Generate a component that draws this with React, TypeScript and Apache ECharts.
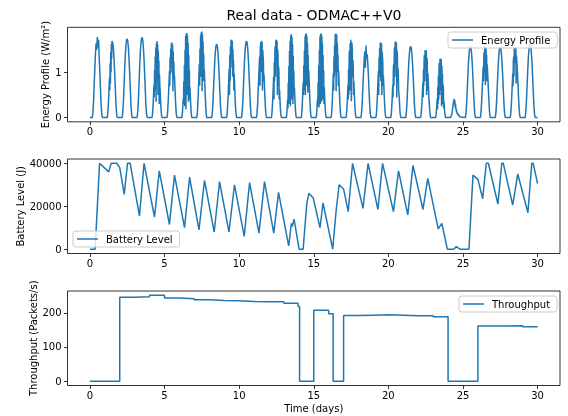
import React, { useEffect, useRef } from "react";
import * as echarts from "echarts";

// ---- data ----
const TITLE = "Real data - ODMAC++V0";
const X_TICKS = [0, 5, 10, 15, 20, 25, 30];
const ENERGY_TICKS = [0, 1];
const BATTERY_TICKS = [0, 20000, 40000];
const THROUGHPUT_TICKS = [0, 100, 200];

// daylight window (hours) over which each day's samples are spread evenly
const SUNRISE_H = 4;
const SUNSET_H = 20;

// Energy profile (W/m^2), samples from sunrise to sunset for each day 0..29
const ENERGY_DAYS: number[][] = [
  [0, 0.14, 0.39, 0.75, 1.1, 1.42, 1.64, 1.5, 1.78, 1.55, 1.72, 1.32, 1.0, 0.64, 0.3, 0.09, 0],
  [0, 0.05, 0.14, 0.25, 0.37, 0.55, 0.71, 0.88, 0.6, 1.2, 0.75, 1.45, 1.0, 1.62, 1.3, 1.69, 1.68, 1.66, 1.63, 1.57, 1.49, 1.37, 1.25, 1.1, 0.95, 0.78, 0.61, 0.44, 0.29, 0.17, 0.08, 0.03, 0],
  [0, 0.14, 0.38, 0.73, 1.08, 1.39, 1.6, 1.72, 1.74, 1.69, 1.53, 1.29, 0.97, 0.63, 0.3, 0.09, 0],
  [0, 0.14, 0.39, 0.74, 1.1, 1.42, 1.63, 1.75, 1.77, 1.72, 1.56, 1.31, 0.99, 0.64, 0.3, 0.09, 0],
  [0, 0.05, 0.14, 0.25, 0.37, 0.54, 0.71, 0.45, 1.05, 0.6, 1.35, 0.9, 1.55, 0.35, 1.65, 1.2, 1.69, 0.8, 1.62, 0.5, 1.48, 1.1, 1.25, 0.3, 0.95, 0.7, 0.6, 0.44, 0.29, 0.17, 0.08, 0.03, 0],
  [0, 0.05, 0.13, 0.25, 0.37, 0.53, 0.7, 0.86, 1.03, 0.7, 1.33, 0.95, 1.52, 1.0, 1.64, 1.3, 1.66, 1.2, 1.61, 0.58, 1.46, 1.05, 1.23, 0.9, 0.93, 0.77, 0.6, 0.43, 0.28, 0.17, 0.08, 0.03, 0],
  [0, 0.06, 0.15, 0.28, 0.41, 0.3, 0.79, 0.4, 1.16, 0.25, 1.5, 0.6, 1.8, 0.18, 1.85, 0.9, 1.87, 0.5, 1.81, 1.2, 1.65, 0.35, 1.38, 0.8, 1.05, 0.4, 0.67, 0.48, 0.32, 0.19, 0.09, 0.03, 0],
  [0, 0.06, 0.15, 0.28, 0.42, 0.61, 0.8, 0.99, 1.18, 0.7, 1.52, 1.0, 1.82, 0.9, 1.88, 1.4, 1.9, 0.58, 1.84, 1.3, 1.68, 0.8, 1.41, 1.0, 1.06, 0.87, 0.68, 0.49, 0.32, 0.19, 0.09, 0.03, 0],
  [0, 0.13, 0.36, 0.68, 1.0, 1.3, 1.49, 1.6, 1.62, 1.57, 1.43, 1.2, 0.91, 0.58, 0.28, 0.08, 0],
  [0, 0.05, 0.14, 0.26, 0.38, 0.55, 0.72, 0.9, 1.07, 0.5, 1.38, 0.8, 1.58, 1.1, 1.7, 1.72, 1.4, 1.7, 1.67, 0.9, 1.51, 1.2, 1.27, 0.6, 0.97, 0.8, 0.62, 0.45, 0.29, 0.17, 0.09, 0.03, 0],
  [0, 0.14, 0.37, 0.71, 1.05, 1.35, 1.55, 1.67, 1.69, 1.64, 1.49, 1.25, 0.95, 0.61, 0.29, 0.08, 0],
  [0, 0.05, 0.14, 0.25, 0.37, 0.54, 0.71, 0.88, 1.05, 1.2, 1.35, 0.7, 1.55, 1.62, 1.67, 1.0, 1.69, 1.67, 1.64, 0.6, 1.49, 1.37, 1.25, 0.8, 0.95, 0.78, 0.61, 0.44, 0.29, 0.17, 0.08, 0.03, 0],
  [0, 0.05, 0.14, 0.26, 0.38, 0.55, 0.72, 0.9, 0.4, 1.22, 0.8, 1.48, 1.58, 0.9, 1.7, 1.72, 1.2, 1.7, 1.67, 0.5, 1.51, 1.39, 0.7, 1.12, 0.97, 0.4, 0.62, 0.45, 0.29, 0.17, 0.09, 0.03, 0],
  [0, 0.06, 0.15, 0.28, 0.4, 0.2, 0.77, 0.35, 1.14, 0.3, 1.47, 0.6, 1.7, 0.25, 1.82, 1.0, 1.84, 0.4, 1.78, 1.1, 1.62, 0.3, 1.36, 0.7, 1.03, 0.5, 0.66, 0.48, 0.31, 0.18, 0.09, 0.03, 0],
  [0, 0.06, 0.15, 0.28, 0.41, 0.6, 0.78, 0.5, 1.15, 0.6, 1.49, 0.9, 1.79, 0.5, 1.85, 1.3, 1.86, 0.7, 1.8, 1.0, 1.64, 0.55, 1.38, 0.9, 1.04, 0.85, 0.67, 0.48, 0.32, 0.19, 0.09, 0.03, 0],
  [0, 0.06, 0.15, 0.28, 0.41, 0.25, 0.78, 0.3, 1.15, 0.22, 1.49, 0.5, 1.79, 0.3, 1.85, 0.9, 1.86, 0.35, 1.8, 1.1, 1.64, 0.4, 1.38, 0.6, 1.04, 0.3, 0.67, 0.48, 0.32, 0.19, 0.09, 0.03, 0],
  [0, 0.06, 0.15, 0.28, 0.41, 0.6, 0.78, 0.97, 0.6, 1.35, 0.9, 1.6, 1.0, 1.84, 1.2, 1.86, 0.58, 1.84, 1.8, 1.0, 1.64, 1.1, 1.38, 0.7, 1.04, 0.85, 0.67, 0.48, 0.32, 0.19, 0.09, 0.03, 0],
  [0, 0.05, 0.14, 0.26, 0.38, 0.55, 0.72, 0.4, 1.07, 0.5, 1.38, 1.48, 0.6, 1.65, 1.2, 1.72, 1.72, 0.36, 1.67, 1.6, 1.51, 0.9, 1.27, 1.12, 0.5, 0.8, 0.62, 0.45, 0.29, 0.17, 0.09, 0.03, 0],
  [0, 0.13, 0.35, 0.67, 0.99, 1.27, 1.46, 1.1, 1.59, 1.3, 1.4, 1.18, 0.89, 0.57, 0.27, 0.08, 0],
  [0, 0.05, 0.13, 0.25, 0.37, 0.53, 0.7, 0.86, 1.03, 0.5, 1.33, 0.9, 1.53, 1.2, 1.64, 1.66, 0.8, 1.64, 1.61, 0.5, 1.46, 1.34, 1.23, 0.7, 0.93, 0.77, 0.6, 0.43, 0.28, 0.17, 0.08, 0.03, 0],
  [0, 0.05, 0.13, 0.25, 0.37, 0.54, 0.71, 0.45, 1.04, 1.19, 0.7, 1.45, 1.55, 0.9, 1.66, 1.68, 1.2, 1.66, 1.63, 0.44, 1.48, 1.36, 0.9, 1.09, 0.94, 0.6, 0.61, 0.44, 0.29, 0.17, 0.08, 0.03, 0],
  [0, 0.13, 0.35, 0.66, 0.97, 1.26, 1.44, 1.55, 1.57, 1.52, 1.38, 1.16, 0.88, 0.57, 0.27, 0.08, 0],
  [0, 0.05, 0.12, 0.23, 0.33, 0.48, 0.63, 0.78, 0.45, 1.07, 0.7, 1.29, 1.38, 0.8, 1.49, 1.5, 1.1, 1.49, 1.46, 0.5, 1.32, 1.22, 0.6, 0.98, 0.84, 0.69, 0.44, 0.39, 0.26, 0.15, 0.08, 0.03, 0],
  [0, 0.04, 0.1, 0.2, 0.29, 0.42, 0.18, 0.68, 0.3, 0.93, 0.4, 1.13, 1.21, 0.5, 1.3, 1.31, 0.6, 1.3, 1.27, 0.25, 1.15, 0.9, 0.97, 0.3, 0.73, 0.6, 0.2, 0.34, 0.23, 0.13, 0.07, 0.03, 0],
  [0, 0.01, 0.03, 0.05, 0.08, 0.12, 0.16, 0.21, 0.27, 0.32, 0.36, 0.38, 0.41, 0.3, 0.37, 0.22, 0.3, 0.18, 0.2, 0.12, 0.15, 0.08, 0.1, 0.06, 0.08, 0.04, 0.06, 0.03, 0.05, 0.02, 0.03, 0.01, 0],
  [0, 0.13, 0.35, 0.66, 0.98, 1.26, 1.45, 1.56, 1.58, 1.53, 1.39, 1.17, 0.88, 0.57, 0.27, 0.08, 0],
  [0, 0.05, 0.13, 0.24, 0.35, 0.51, 0.66, 0.82, 0.98, 1.12, 0.8, 1.36, 1.45, 1.0, 1.56, 1.58, 0.72, 1.56, 1.53, 1.2, 1.39, 0.8, 1.17, 1.03, 0.88, 0.73, 0.57, 0.41, 0.27, 0.16, 0.08, 0.03, 0],
  [0, 0.12, 0.34, 0.66, 0.97, 1.25, 1.44, 1.54, 1.56, 1.51, 1.37, 1.15, 0.87, 0.56, 0.27, 0.08, 0],
  [0, 0.05, 0.12, 0.23, 0.34, 0.5, 0.66, 0.81, 0.97, 0.69, 1.25, 1.34, 0.9, 1.54, 1.56, 1.2, 1.56, 1.54, 1.51, 0.75, 1.37, 1.26, 1.15, 1.01, 0.87, 0.72, 0.56, 0.41, 0.27, 0.16, 0.08, 0.03, 0],
  [0, 0.13, 0.36, 0.68, 1.0, 1.3, 1.49, 1.6, 1.62, 1.57, 1.43, 1.2, 0.91, 0.58, 0.28, 0.08, 0],
];

// Battery level (J): time (days) and value
const BATTERY_T = [0, 0.35, 0.65, 1.26, 1.43, 1.8, 2.0, 2.3, 2.52, 2.7, 3.32, 3.63, 4.33, 4.65, 5.33, 5.67, 6.34, 6.68, 7.31, 7.68, 8.33, 8.69, 9.32, 9.69, 10.34, 10.7, 11.33, 11.7, 12.32, 12.64, 13.32, 13.5, 13.56, 13.68, 14.02, 14.29, 14.53, 14.67, 14.96, 15.42, 15.62, 16.27, 16.5, 16.7, 17.0, 17.31, 17.6, 18.3, 18.64, 19.3, 19.61, 20.34, 20.68, 21.3, 21.65, 22.32, 22.64, 23.34, 23.58, 23.95, 24.38, 24.55, 24.8, 25.4, 25.67, 26.0, 26.32, 26.56, 26.7, 27.34, 27.6, 27.7, 28.33, 28.67, 29.35, 29.61, 29.7, 30.0];
const BATTERY_V = [0, 0, 40000, 36000, 40000, 40000, 38000, 25500, 40000, 40000, 15500, 40000, 15000, 36500, 11500, 34500, 10000, 33500, 9000, 32000, 8000, 31500, 8000, 30000, 6000, 31000, 7500, 31500, 7500, 26500, 1500, 12000, 10500, 14000, 0, 0, 21000, 26000, 24000, 10000, 21500, 0, 18000, 30000, 28000, 17500, 40000, 19000, 40000, 18500, 40000, 17500, 36500, 16000, 39000, 18500, 33000, 9500, 12000, 0, 0, 1200, 0, 0, 34500, 32500, 23500, 40000, 40000, 21000, 40000, 40000, 20500, 35000, 17000, 40000, 40000, 30500];

// Throughput (packets/s): step start times (days) and values
const THROUGHPUT_T = [0, 2, 3, 4, 5, 6, 7, 8, 9, 10, 11, 12, 13, 13.95, 14.05, 15, 16, 16.3, 17, 18, 19, 20, 21, 22, 23, 24, 26, 27, 28, 29, 30];
const THROUGHPUT_V = [0, 245, 247, 251, 243, 241, 238, 236, 235, 233, 232, 232, 228, 218, 0, 207, 197, 0, 192, 193, 194, 193, 191, 191, 188, 0, 161, 161, 162, 159, 159];

// ---- styles ----
const FONT = "DejaVu Sans";
const C0 = "#1f77b4";
const GRID_LEFT = 67.5;
const GRID_W = 492.5;
const GRID_H = 94.5;
const GRID_TOPS = [27.3, 159, 291];

function App() {
  const ref = useRef<HTMLDivElement>(null);
  useEffect(() => {
    if (!ref.current) return;
    const chart = echarts.init(ref.current, undefined, { renderer: "svg" });

    const energyData: [number, number][] = [[0, 0]];
    ENERGY_DAYS.forEach((vals, d) => {
      const n = vals.length;
      vals.forEach((v, i) => {
        energyData.push([d + (SUNRISE_H + ((SUNSET_H - SUNRISE_H) * i) / (n - 1)) / 24, v]);
      });
    });
    energyData.push([30, 0]);
    const batteryData = BATTERY_T.map((t, i) => [t, BATTERY_V[i]]);
    const throughputData = THROUGHPUT_T.map((t, i) => [t, THROUGHPUT_V[i]]);

    const label = { fontFamily: FONT, fontSize: 10, color: "#000" };
    const fmt = (v: number) => String(v);

    const xAxis = [0, 1, 2].map((g) => ({
      type: "value",
      gridIndex: g,
      min: -1.5,
      max: 31.5,
      axisLine: { show: false, onZero: false },
      splitLine: { show: false },
      axisTick: { show: true, length: 3.5, customValues: X_TICKS, lineStyle: { color: "#000", width: 0.8 } },
      axisLabel: { ...label, margin: 5, customValues: X_TICKS, formatter: fmt },
      ...(g === 2
        ? { name: "Time (days)", nameLocation: "middle", nameGap: 18, nameMoveOverlap: false, nameTextStyle: { ...label } }
        : {}),
    }));

    const yDefs = [
      { min: -0.095, max: 1.995, ticks: ENERGY_TICKS, name: "Energy Profile (W/m²)", gap: 17 },
      { min: -2000, max: 42000, ticks: BATTERY_TICKS, name: "Battery Level (J)", gap: 42 },
      { min: -12.55, max: 263.55, ticks: THROUGHPUT_TICKS, name: "Throughput (Packets/s)", gap: 29 },
    ];
    const yAxis = yDefs.map((d, g) => ({
      type: "value",
      gridIndex: g,
      min: d.min,
      max: d.max,
      axisLine: { show: false, onZero: false },
      splitLine: { show: false },
      axisTick: { show: true, length: 3.5, customValues: d.ticks, lineStyle: { color: "#000", width: 0.8 } },
      axisLabel: { ...label, margin: 6, customValues: d.ticks, formatter: fmt },
      name: d.name,
      nameLocation: "middle",
      nameRotate: 90,
      nameGap: d.gap,
      nameMoveOverlap: false,
      nameTextStyle: { ...label },
    }));

    const legendBase = {
      orient: "horizontal",
      backgroundColor: "rgba(255,255,255,0.8)",
      borderColor: "#ccc",
      borderWidth: 1,
      borderRadius: 3,
      padding: [3, 7, 3, 4],
      itemWidth: 21,
      itemHeight: 1.5,
      icon: "rect",
      textStyle: { ...label, padding: [0, 0, 0, 3] },
      selectedMode: false,
    };

    const lineBase = {
      type: "line",
      symbol: "none",
      showSymbol: false,
      color: C0,
      lineStyle: { color: C0, width: 1.5 },
      emphasis: { disabled: true },
    };

    chart.setOption({
      animation: false,
      textStyle: { fontFamily: FONT },
      grid: GRID_TOPS.map((top) => ({
        left: GRID_LEFT,
        top,
        width: GRID_W,
        height: GRID_H,
        show: true,
        borderColor: "#000",
        borderWidth: 0.8,
        backgroundColor: "transparent",
      })),
      xAxis,
      yAxis,
      legend: [
        { ...legendBase, data: ["Energy Profile"], left: 448, top: 32 },
        { ...legendBase, data: ["Battery Level"], left: 73, top: 231 },
        { ...legendBase, data: ["Throughput"], left: 459, top: 296 },
      ],
      graphic: [
        {
          type: "text",
          x: 314,
          y: 15,
          style: {
            text: TITLE,
            fontFamily: FONT,
            fontSize: 14,
            fill: "#000",
            textAlign: "center",
            textVerticalAlign: "middle",
          },
        },
      ],
      series: [
        { ...lineBase, name: "Energy Profile", xAxisIndex: 0, yAxisIndex: 0, data: energyData },
        { ...lineBase, name: "Battery Level", xAxisIndex: 1, yAxisIndex: 1, data: batteryData },
        { ...lineBase, name: "Throughput", xAxisIndex: 2, yAxisIndex: 2, step: "end", data: throughputData },
      ],
    });
    return () => chart.dispose();
  }, []);
  return <div ref={ref} style={{ position: "fixed", left: 0, top: 0, width: 568, height: 416 }} />;
}

export default App;
